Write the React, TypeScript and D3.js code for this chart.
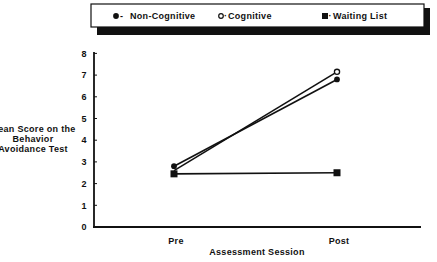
import React from "react";
import * as d3 from "d3";

const sessions = ["Pre", "Post"];
const nonCognitive = [2.8, 6.8];
const cognitive = [2.6, 7.15];
const waitingList = [2.45, 2.5];
const yTicks = [0, 1, 2, 3, 4, 5, 6, 7, 8];
const yLabelLines = ["Mean Score on the", "Behavior", "Avoidance Test"];
const xTitle = "Assessment Session";
const legendItems = ["Non-Cognitive", "Cognitive", "Waiting List"];

const FONT = "'Liberation Sans', Arial, sans-serif";

export default function App() {
  const W = 437, H = 262;
  const axisX = 94, axisBottom = 227, axisRight = 421;
  const y = d3.scaleLinear().domain([0, 8]).range([227, 53.4]);
  const x = d3.scalePoint<string>().domain(sessions).range([174, 337]);
  const line = d3
    .line<number>()
    .x((_, i) => x(sessions[i]) as number)
    .y((d) => y(d));

  const dot = d3.symbol().type(d3.symbolCircle).size(26)();
  const fs = 9;
  const ls = 0.3;
  return (
    <svg
      width={W}
      height={H}
      style={{ position: "absolute", left: 0, top: 0, background: "#fff" }}
      fontFamily={FONT}
    >
      <rect x={0} y={0} width={W} height={H} fill="#fff" />
      {/* Legend */}
      <rect x={97} y={27} width={333} height={8} fill="#111" />
      <rect x={424} y={8} width={6} height={27} fill="#111" />
      <rect x={91} y={4} width={333} height={23} fill="#fff" stroke="#111" strokeWidth={1.2} />
      <g fontSize={fs} fontWeight="bold" fill="#111" letterSpacing={ls}>
        <path d={dot} transform="translate(116,16)" fill="#111" />
        <text x={120} y={19}>-</text>
        <text x={130} y={19}>{legendItems[0]}</text>
        <circle cx={221} cy={16} r={2.3} fill="#fff" stroke="#111" strokeWidth={1.2} />
        <text x={224} y={19}>·</text>
        <text x={228} y={19}>{legendItems[1]}</text>
        <rect x={322} y={13} width={6} height={6} fill="#111" />
        <text x={328.5} y={19}>·</text>
        <text x={333} y={19}>{legendItems[2]}</text>
      </g>

      {/* Axes */}
      <line x1={axisX} y1={52} x2={axisX} y2={axisBottom + 1} stroke="#111" strokeWidth={1.8} />
      <line x1={axisX - 1} y1={axisBottom} x2={axisRight} y2={axisBottom} stroke="#111" strokeWidth={1.8} />
      {yTicks.map((t) => (
        <g key={t}>
          {t > 0 && (
            <line x1={axisX} x2={axisX + 3} y1={y(t)} y2={y(t)} stroke="#111" strokeWidth={1} />
          )}
          <text
            x={86.5}
            y={y(t) + 3.2}
            textAnchor="end"
            fontSize={fs}
            fontWeight="bold"
            fill="#111"
          >
            {t}
          </text>
        </g>
      ))}
      {sessions.map((s) => (
        <text
          key={s}
          x={(x(s) as number) + 2}
          y={244}
          textAnchor="middle"
          fontSize={fs}
          fontWeight="bold"
          fill="#111"
          letterSpacing={ls}
        >
          {s}
        </text>
      ))}
      <text x={257} y={255} textAnchor="middle" fontSize={fs} fontWeight="bold" fill="#111" letterSpacing={ls}>
        {xTitle}
      </text>
      {yLabelLines.map((l, i) => (
        <text
          key={l}
          x={33}
          y={131.5 + i * 10}
          textAnchor="middle"
          fontSize={fs}
          fontWeight="bold"
          fill="#111"
          letterSpacing={ls}
        >
          {l}
        </text>
      ))}

      {/* Lines */}
      <path d={line(cognitive) || ""} fill="none" stroke="#111" strokeWidth={1.6} />
      <path d={line(nonCognitive) || ""} fill="none" stroke="#111" strokeWidth={1.6} />
      <path d={line(waitingList) || ""} fill="none" stroke="#111" strokeWidth={1.6} />

      {/* Markers */}
      {cognitive.map((v, i) =>
        i === 1 ? (
          <circle key={i} cx={x(sessions[i])} cy={y(v)} r={2.6} fill="#fff" stroke="#111" strokeWidth={1.3} />
        ) : null
      )}
      {nonCognitive.map((v, i) => (
        <path
          key={i}
          d={dot}
          transform={`translate(${x(sessions[i])},${y(v)})`}
          fill="#111"
        />
      ))}
      {waitingList.map((v, i) => (
        <rect
          key={i}
          x={(x(sessions[i]) as number) - 3.5}
          y={y(v) - 3.5}
          width={7}
          height={7}
          fill="#111"
        />
      ))}
    </svg>
  );
}
